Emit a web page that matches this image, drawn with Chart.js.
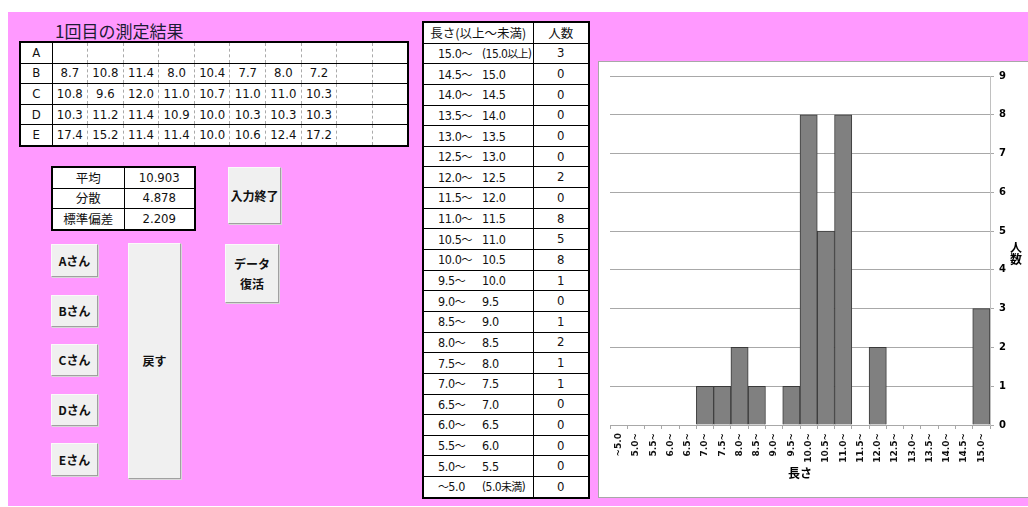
<!DOCTYPE html>
<html lang="ja">
<head>
    <meta charset="UTF-8">
    <title>1回目の測定結果</title>
    <script src="https://cdn.jsdelivr.net/npm/chart.js"></script>
    <style>
        body { margin: 0; background: #fff; font-family: "Liberation Sans Narrow", "DejaVu Sans Condensed", "Noto Sans CJK JP", sans-serif; }
        .sheet { position: absolute; left: 8px; top: 12px; width: 1020px; height: 494px; background: #ff99ff; }
        .title { position: absolute; left: 55px; top: 20px; font-size: 17px; color: #1c1c34; font-family: "Noto Sans CJK JP", sans-serif; line-height: 22px; }
        table { position: absolute; border-collapse: collapse; table-layout: fixed; background: #fff; border: 2px solid #000; font-size: 13px; color: #111; }
        td { padding: 0; text-align: center; height: 19.6px; line-height: 18px; white-space: nowrap; overflow: hidden; }
        #dataTable { left: 19px; top: 41px; width: 388px; }
        #dataTable td { border-top: 1px solid #000; border-bottom: 1px solid #000; border-left: 1px dashed #aaa; }
        #dataTable td.head { border-right: 1px solid #000; }
        #statsTable { left: 51px; top: 166px; width: 143px; }
        #statsTable td { border: 1px solid #000; height: 19.5px; }
        #statsTable td.name { font-family: "Noto Sans CJK JP", sans-serif; font-size: 12.5px; }
        #freqTable { left: 422px; top: 21px; width: 166px; }
        #freqTable td { border: 1px solid #000; height: 19.65px; }
        #freqTable td.range { text-align: left; font-size: 12.5px; letter-spacing: -0.4px; }
        #freqTable td.hd { font-family: "Noto Sans CJK JP", sans-serif; font-size: 12.5px; text-align: center; letter-spacing: 0; }
        .lo { display: inline-block; width: 44px; margin-left: 14px; }
        .hi { font-size: 12px; letter-spacing: -0.6px; }
        .jp { font-family: "Noto Sans CJK JP", sans-serif; font-size: 11px; letter-spacing: -0.8px; }
        .btn { position: absolute; background: #f0f0f0; border: 1px solid #fafafa; border-right-color: #a0a0a0; border-bottom-color: #a0a0a0; box-shadow: 1px 1px 0 #d8d8d8; box-sizing: border-box; display: flex; align-items: center; justify-content: center; text-align: center; font-family: "Noto Sans CJK JP", sans-serif; font-weight: bold; font-size: 12px; line-height: 20px; color: #111; }
        .chartBox { position: absolute; left: 598px; top: 61px; width: 440px; height: 437px; background: #fff; border: 1px solid #a8a8a8; box-sizing: border-box; }
        #histChart { position: absolute; left: 1px; top: 1px; }
    </style>
</head>
<body>
    <div class="sheet"></div>
    <div class="title">1回目の測定結果</div>

    <table id="dataTable"></table>
    <table id="statsTable"></table>
    <table id="freqTable"></table>

    <div class="btn" style="left:228px; top:167px; width:53px; height:57px;">入力終了</div>
    <div class="btn" style="left:225px; top:244px; width:54px; height:59px;">データ<br>復活</div>
    <div class="btn" style="left:51px; top:244px; width:47px; height:33px;">Aさん</div>
    <div class="btn" style="left:51px; top:295px; width:47px; height:32px;">Bさん</div>
    <div class="btn" style="left:51px; top:344px; width:47px; height:32px;">Cさん</div>
    <div class="btn" style="left:51px; top:394px; width:47px; height:32px;">Dさん</div>
    <div class="btn" style="left:51px; top:443px; width:47px; height:33px;">Eさん</div>
    <div class="btn" style="left:128px; top:243px; width:53px; height:236px;">戻す</div>

    <div class="chartBox">
        <canvas id="histChart" width="429" height="435"></canvas>
    </div>

    <script>
        // 測定値（A さんは未入力）
        const rowNames = ['A', 'B', 'C', 'D', 'E'];
        const valuesA = [];
        const valuesB = [8.7, 10.8, 11.4, 8.0, 10.4, 7.7, 8.0, 7.2];
        const valuesC = [10.8, 9.6, 12.0, 11.0, 10.7, 11.0, 11.0, 10.3];
        const valuesD = [10.3, 11.2, 11.4, 10.9, 10.0, 10.3, 10.3, 10.3];
        const valuesE = [17.4, 15.2, 11.4, 11.4, 10.0, 10.6, 12.4, 17.2];
        const columnCount = 10;

        // 統計量
        const statNames = ['平均', '分散', '標準偏差'];
        const statValues = ['10.903', '4.878', '2.209'];

        // 度数分布（長さの小さい順）
        const binStarts = ['～5.0', '5.0～', '5.5～', '6.0～', '6.5～', '7.0～', '7.5～', '8.0～', '8.5～', '9.0～', '9.5～',
            '10.0～', '10.5～', '11.0～', '11.5～', '12.0～', '12.5～', '13.0～', '13.5～', '14.0～', '14.5～', '15.0～'];
        const binEnds = ['(5.0未満)', '5.5', '6.0', '6.5', '7.0', '7.5', '8.0', '8.5', '9.0', '9.5', '10.0',
            '10.5', '11.0', '11.5', '12.0', '12.5', '13.0', '13.5', '14.0', '14.5', '15.0', '(15.0以上)'];
        const counts = [0, 0, 0, 0, 0, 1, 1, 2, 1, 0, 1, 8, 5, 8, 0, 2, 0, 0, 0, 0, 0, 3];

        // 測定結果の表
        const allRows = [valuesA, valuesB, valuesC, valuesD, valuesE];
        let html = '<colgroup><col style="width:32px">' + '<col style="width:35.6px">'.repeat(columnCount) + '</colgroup>';
        allRows.forEach((vals, i) => {
            html += '<tr><td class="head">' + rowNames[i] + '</td>';
            for (let c = 0; c < columnCount; c++) {
                html += '<td>' + (vals[c] !== undefined ? vals[c].toFixed(1) : '') + '</td>';
            }
            html += '</tr>';
        });
        document.getElementById('dataTable').innerHTML = html;

        // 統計量の表
        html = '<colgroup><col style="width:72px"><col style="width:71px"></colgroup>';
        statNames.forEach((name, i) => {
            html += '<tr><td class="name">' + name + '</td><td class="val">' + statValues[i] + '</td></tr>';
        });
        document.getElementById('statsTable').innerHTML = html;

        // 度数分布表（大きい順に並べる）
        const splitJp = s => s.replace(/([^\x00-\x7f]+)/g, '<span class="jp">$1</span>');
        html = '<colgroup><col style="width:110px"><col style="width:56px"></colgroup>';
        html += '<tr><td class="range hd">長さ(以上～未満)</td><td class="count hd">人数</td></tr>';
        for (let i = counts.length - 1; i >= 0; i--) {
            const end = binEnds[i].startsWith('(') ? '<span class="hi">' + splitJp(binEnds[i]) + '</span>' : binEnds[i];
            html += '<tr><td class="range"><span class="lo">' + splitJp(binStarts[i]) + '</span>' + end +
                '</td><td class="count">' + counts[i] + '</td></tr>';
        }
        document.getElementById('freqTable').innerHTML = html;

        // 縦書きの軸タイトル「人数」
        const verticalTitle = {
            id: 'verticalTitle',
            afterDraw(chart) {
                const ctx = chart.ctx;
                const area = chart.chartArea;
                const x = chart.scales.y.right - 13;
                const mid = (area.top + area.bottom) / 2;
                ctx.save();
                ctx.font = 'bold 12px "Noto Sans CJK JP"';
                ctx.fillStyle = '#000';
                ctx.textAlign = 'center';
                ctx.textBaseline = 'middle';
                ctx.fillText('人', x, mid - 3);
                ctx.fillText('数', x, mid + 9);
                ctx.restore();
            }
        };

        const ctx = document.getElementById('histChart').getContext('2d');
        new Chart(ctx, {
            type: 'bar',
            data: {
                labels: binStarts.map(s => s.replace('～', '~')),
                datasets: [{
                    label: '人数',
                    data: counts,
                    backgroundColor: '#808080',
                    borderColor: '#3a3a3a',
                    borderWidth: 1,
                    barPercentage: 1,
                    categoryPercentage: 1
                }]
            },
            options: {
                responsive: false,
                animation: false,
                layout: { padding: { left: 10, top: 13, right: 0, bottom: 0 } },
                plugins: {
                    legend: { display: false },
                    tooltip: { enabled: false }
                },
                scales: {
                    x: {
                        grid: { display: true, drawOnChartArea: false, drawTicks: true, tickLength: 4, color: '#a8a8a8', offset: true },
                        border: { color: '#a8a8a8' },
                        ticks: {
                            autoSkip: false, minRotation: 90, maxRotation: 90, padding: 4,
                            color: '#111', font: { family: 'DejaVu Sans', size: 9, weight: 'bold' }
                        },
                        title: {
                            display: true, text: '長さ', color: '#000',
                            font: { family: 'Noto Sans CJK JP', size: 12, weight: 'bold' },
                            padding: { top: 0, bottom: 17 }
                        },
                        afterFit(scale) { scale.height = 73; }
                    },
                    y: {
                        position: 'right',
                        min: 0,
                        max: 9,
                        grid: { color: '#a8a8a8', tickLength: 4 },
                        border: { color: '#c0c0c0' },
                        ticks: {
                            stepSize: 1, padding: 5, color: '#000',
                            font: { family: 'DejaVu Sans', size: 10, weight: 'bold' }
                        },
                        afterFit(scale) { scale.width = 39; }
                    }
                }
            },
            plugins: [verticalTitle]
        });
    </script>
</body>
</html>
